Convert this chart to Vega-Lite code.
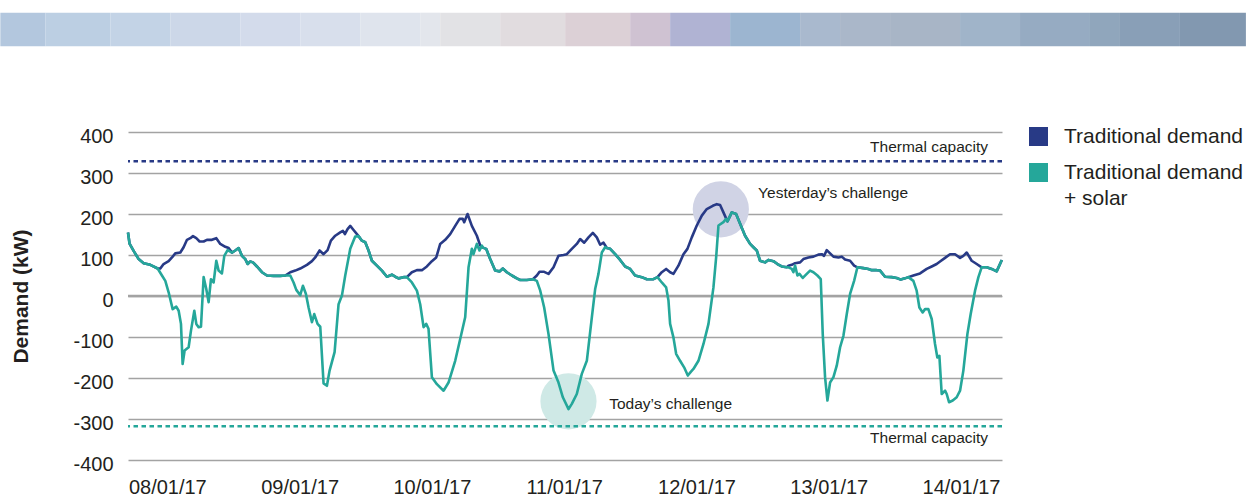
{
  "$schema": "https://vega.github.io/schema/vega-lite/v6.json",
  "width": 874,
  "height": 328,
  "autosize": "none",
  "padding": {"left": 128, "top": 132, "right": 247, "bottom": 38},
  "background": "white",
  "config": {
    "view": {"stroke": null},
    "font": "Liberation Sans",
    "axis": {"labelFont": "Liberation Sans", "titleFont": "Liberation Sans", "labelColor": "#231f20", "titleColor": "#231f20"}
  },
  "datasets": {
    "banner": [
      {"tile": "t01", "a": -30.29, "b": -22.13},
      {"tile": "t02", "a": -22.13, "b": -10.34},
      {"tile": "t03", "a": -10.34, "b": 0.54},
      {"tile": "t04", "a": 0.54, "b": 13.24},
      {"tile": "t05", "a": 13.24, "b": 24.12},
      {"tile": "t06", "a": 24.12, "b": 35.0},
      {"tile": "t07", "a": 35.0, "b": 45.88},
      {"tile": "t08", "a": 45.88, "b": 49.51},
      {"tile": "t09", "a": 49.51, "b": 60.39},
      {"tile": "t10", "a": 60.39, "b": 72.18},
      {"tile": "t11", "a": 72.18, "b": 83.97},
      {"tile": "t12", "a": 83.97, "b": 91.22},
      {"tile": "t13", "a": 91.22, "b": 102.1},
      {"tile": "t14", "a": 102.1, "b": 114.8},
      {"tile": "t15", "a": 114.8, "b": 122.05},
      {"tile": "t16", "a": 122.05, "b": 131.12},
      {"tile": "t17", "a": 131.12, "b": 143.82},
      {"tile": "t18", "a": 143.82, "b": 154.7},
      {"tile": "t19", "a": 154.7, "b": 167.39},
      {"tile": "t20", "a": 167.39, "b": 172.83},
      {"tile": "t21", "a": 172.83, "b": 183.71},
      {"tile": "t22", "a": 183.71, "b": 195.68}
    ],
    "demand": [
      {"h": -7.13, "kw": 155}, {"h": -6.85, "kw": 128}, {"h": -6.11, "kw": 110}, {"h": -5.2, "kw": 90}, {"h": -4.29, "kw": 80}, {"h": -3.08, "kw": 76}, {"h": -1.75, "kw": 67},
      {"h": -1.27, "kw": 67}, {"h": -0.67, "kw": 78}, {"h": 0.24, "kw": 85}, {"h": 0.85, "kw": 94}, {"h": 1.45, "kw": 104}, {"h": 2.36, "kw": 106}, {"h": 2.96, "kw": 119}, {"h": 3.57, "kw": 137}, {"h": 4.17, "kw": 141}, {"h": 4.66, "kw": 146}, {"h": 5.26, "kw": 141}, {"h": 5.86, "kw": 133}, {"h": 6.59, "kw": 133}, {"h": 7.19, "kw": 137}, {"h": 8.1, "kw": 137}, {"h": 8.89, "kw": 141}, {"h": 9.61, "kw": 127}, {"h": 10.52, "kw": 120}, {"h": 11.13, "kw": 117},
      {"h": 11.73, "kw": 106}, {"h": 12.33, "kw": 111}, {"h": 12.94, "kw": 117}, {"h": 13.54, "kw": 98}, {"h": 14.15, "kw": 90}, {"h": 14.57, "kw": 78}, {"h": 15.05, "kw": 84}, {"h": 15.54, "kw": 82}, {"h": 16.26, "kw": 72}, {"h": 17.17, "kw": 58}, {"h": 18.08, "kw": 50}, {"h": 19.28, "kw": 49}, {"h": 20.49, "kw": 49}, {"h": 21.4, "kw": 50},
      {"h": 22.31, "kw": 58}, {"h": 23.21, "kw": 62}, {"h": 24.12, "kw": 67}, {"h": 25.33, "kw": 76}, {"h": 26.24, "kw": 85}, {"h": 26.84, "kw": 94}, {"h": 27.63, "kw": 111}, {"h": 28.35, "kw": 102}, {"h": 29.08, "kw": 112}, {"h": 29.68, "kw": 135}, {"h": 30.47, "kw": 147}, {"h": 31.37, "kw": 155}, {"h": 31.86, "kw": 159}, {"h": 32.22, "kw": 151}, {"h": 32.7, "kw": 163}, {"h": 33.19, "kw": 171}, {"h": 33.79, "kw": 161},
      {"h": 34.7, "kw": 146}, {"h": 35.3, "kw": 135}, {"h": 35.91, "kw": 131}, {"h": 36.51, "kw": 111}, {"h": 37.12, "kw": 86}, {"h": 38.02, "kw": 74}, {"h": 38.93, "kw": 62}, {"h": 39.84, "kw": 47}, {"h": 40.74, "kw": 52}, {"h": 41.35, "kw": 47}, {"h": 41.95, "kw": 43}, {"h": 42.86, "kw": 46}, {"h": 43.46, "kw": 46},
      {"h": 44.37, "kw": 58}, {"h": 45.28, "kw": 63}, {"h": 46.19, "kw": 63}, {"h": 47.09, "kw": 72}, {"h": 48.0, "kw": 85}, {"h": 48.79, "kw": 94}, {"h": 49.51, "kw": 127}, {"h": 50.42, "kw": 137}, {"h": 51.32, "kw": 151}, {"h": 52.23, "kw": 171}, {"h": 53.02, "kw": 188}, {"h": 53.62, "kw": 188}, {"h": 53.86, "kw": 180}, {"h": 54.47, "kw": 200}, {"h": 55.25, "kw": 171}, {"h": 56.16, "kw": 147}, {"h": 56.77, "kw": 123},
      {"h": 57.25, "kw": 118}, {"h": 57.85, "kw": 115}, {"h": 58.58, "kw": 90}, {"h": 59.48, "kw": 62}, {"h": 60.27, "kw": 60}, {"h": 60.87, "kw": 67}, {"h": 61.6, "kw": 58}, {"h": 62.51, "kw": 50}, {"h": 63.41, "kw": 43}, {"h": 64.02, "kw": 39}, {"h": 65.23, "kw": 39}, {"h": 66.32, "kw": 41},
      {"h": 67.04, "kw": 50}, {"h": 67.53, "kw": 59}, {"h": 68.37, "kw": 59}, {"h": 69.16, "kw": 54}, {"h": 70.07, "kw": 70}, {"h": 70.97, "kw": 98}, {"h": 71.88, "kw": 100}, {"h": 72.48, "kw": 102}, {"h": 73.39, "kw": 115}, {"h": 74.29, "kw": 127}, {"h": 74.9, "kw": 139}, {"h": 75.63, "kw": 130}, {"h": 76.41, "kw": 143}, {"h": 77.2, "kw": 154}, {"h": 77.92, "kw": 143}, {"h": 78.53, "kw": 125}, {"h": 79.13, "kw": 130},
      {"h": 79.74, "kw": 117}, {"h": 80.34, "kw": 115}, {"h": 81.25, "kw": 102}, {"h": 82.15, "kw": 88}, {"h": 83.06, "kw": 72}, {"h": 83.97, "kw": 66}, {"h": 84.87, "kw": 50}, {"h": 86.08, "kw": 46}, {"h": 86.99, "kw": 41}, {"h": 88.2, "kw": 41}, {"h": 88.93, "kw": 46},
      {"h": 89.71, "kw": 58}, {"h": 90.5, "kw": 66}, {"h": 91.22, "kw": 58}, {"h": 91.82, "kw": 54}, {"h": 92.73, "kw": 74}, {"h": 93.64, "kw": 102}, {"h": 94.36, "kw": 115}, {"h": 95.15, "kw": 143}, {"h": 96.06, "kw": 172}, {"h": 96.97, "kw": 196}, {"h": 97.87, "kw": 212}, {"h": 98.96, "kw": 220}, {"h": 99.69, "kw": 224}, {"h": 100.29, "kw": 222}, {"h": 100.89, "kw": 204},
      {"h": 101.62, "kw": 182}, {"h": 102.41, "kw": 204}, {"h": 103.19, "kw": 200}, {"h": 103.92, "kw": 176}, {"h": 104.82, "kw": 147}, {"h": 105.73, "kw": 127}, {"h": 106.33, "kw": 119}, {"h": 106.94, "kw": 111}, {"h": 107.54, "kw": 86}, {"h": 108.45, "kw": 82}, {"h": 109.05, "kw": 88}, {"h": 109.96, "kw": 85}, {"h": 110.69, "kw": 78}, {"h": 111.47, "kw": 72}, {"h": 112.38, "kw": 70},
      {"h": 112.68, "kw": 74}, {"h": 113.29, "kw": 76}, {"h": 113.89, "kw": 80}, {"h": 114.8, "kw": 82}, {"h": 115.4, "kw": 90}, {"h": 116.31, "kw": 94}, {"h": 117.22, "kw": 96}, {"h": 118.12, "kw": 101}, {"h": 118.73, "kw": 102}, {"h": 119.15, "kw": 98}, {"h": 119.64, "kw": 112}, {"h": 120.24, "kw": 104}, {"h": 120.85, "kw": 96}, {"h": 121.75, "kw": 94}, {"h": 122.36, "kw": 96}, {"h": 122.96, "kw": 89}, {"h": 123.87, "kw": 86}, {"h": 124.6, "kw": 74},
      {"h": 125.2, "kw": 70}, {"h": 126.28, "kw": 68}, {"h": 127.19, "kw": 66}, {"h": 127.8, "kw": 63}, {"h": 128.7, "kw": 63}, {"h": 129.31, "kw": 62}, {"h": 130.21, "kw": 47}, {"h": 131.42, "kw": 46}, {"h": 132.33, "kw": 44}, {"h": 133.06, "kw": 40}, {"h": 133.84, "kw": 43}, {"h": 134.44, "kw": 46},
      {"h": 135.35, "kw": 50}, {"h": 136.56, "kw": 55}, {"h": 137.77, "kw": 66}, {"h": 138.68, "kw": 72}, {"h": 139.58, "kw": 78}, {"h": 140.19, "kw": 84}, {"h": 141.1, "kw": 93}, {"h": 142.0, "kw": 102}, {"h": 142.91, "kw": 102}, {"h": 143.82, "kw": 93}, {"h": 144.42, "kw": 98}, {"h": 145.03, "kw": 106}, {"h": 145.93, "kw": 86}, {"h": 146.84, "kw": 78},
      {"h": 147.74, "kw": 70}, {"h": 148.65, "kw": 70}, {"h": 149.55, "kw": 66}, {"h": 150.46, "kw": 60}, {"h": 151.4, "kw": 88}
    ],
    "net": [
      {"h": -7.13, "kw": 155}, {"h": -6.85, "kw": 128}, {"h": -6.11, "kw": 110}, {"h": -5.2, "kw": 90}, {"h": -4.29, "kw": 80}, {"h": -3.08, "kw": 76}, {"h": -1.75, "kw": 67},
      {"h": -0.97, "kw": 50}, {"h": -0.36, "kw": 37}, {"h": 0.24, "kw": 9}, {"h": 0.97, "kw": -32}, {"h": 1.63, "kw": -26}, {"h": 2.06, "kw": -36}, {"h": 2.48, "kw": -68}, {"h": 2.78, "kw": -166}, {"h": 3.14, "kw": -133}, {"h": 3.87, "kw": -125}, {"h": 4.29, "kw": -85}, {"h": 4.9, "kw": -36}, {"h": 5.26, "kw": -68}, {"h": 5.68, "kw": -76}, {"h": 6.11, "kw": -75}, {"h": 6.59, "kw": 46}, {"h": 7.07, "kw": 17}, {"h": 7.5, "kw": -15}, {"h": 7.92, "kw": 41}, {"h": 8.4, "kw": 33}, {"h": 8.89, "kw": 86}, {"h": 9.31, "kw": 62}, {"h": 9.91, "kw": 55}, {"h": 10.34, "kw": 98}, {"h": 10.94, "kw": 112},
      {"h": 11.73, "kw": 106}, {"h": 12.33, "kw": 111}, {"h": 12.94, "kw": 117}, {"h": 13.54, "kw": 98}, {"h": 14.15, "kw": 90}, {"h": 14.57, "kw": 78}, {"h": 15.05, "kw": 84}, {"h": 15.54, "kw": 82}, {"h": 16.26, "kw": 72}, {"h": 17.17, "kw": 58}, {"h": 18.08, "kw": 50}, {"h": 19.28, "kw": 49}, {"h": 20.49, "kw": 49}, {"h": 21.4, "kw": 50},
      {"h": 22.31, "kw": 50}, {"h": 22.91, "kw": 33}, {"h": 23.4, "kw": 15}, {"h": 24.12, "kw": 2}, {"h": 24.6, "kw": 25}, {"h": 25.15, "kw": 5}, {"h": 25.63, "kw": -28}, {"h": 26.24, "kw": -64}, {"h": 26.66, "kw": -44}, {"h": 27.26, "kw": -68}, {"h": 27.75, "kw": -75}, {"h": 28.35, "kw": -213}, {"h": 28.96, "kw": -219}, {"h": 29.44, "kw": -182}, {"h": 30.35, "kw": -137}, {"h": 31.07, "kw": -20}, {"h": 31.68, "kw": 1}, {"h": 32.28, "kw": 50}, {"h": 33.19, "kw": 115}, {"h": 34.09, "kw": 145},
      {"h": 34.7, "kw": 146}, {"h": 35.3, "kw": 135}, {"h": 35.91, "kw": 131}, {"h": 36.51, "kw": 111}, {"h": 37.12, "kw": 86}, {"h": 38.02, "kw": 74}, {"h": 38.93, "kw": 62}, {"h": 39.84, "kw": 47}, {"h": 40.74, "kw": 52}, {"h": 41.35, "kw": 47}, {"h": 41.95, "kw": 43}, {"h": 42.86, "kw": 46}, {"h": 43.46, "kw": 46},
      {"h": 44.37, "kw": 33}, {"h": 45.28, "kw": 13}, {"h": 45.88, "kw": -20}, {"h": 46.49, "kw": -76}, {"h": 46.97, "kw": -68}, {"h": 47.39, "kw": -80}, {"h": 48.0, "kw": -198}, {"h": 48.91, "kw": -215}, {"h": 50.12, "kw": -231}, {"h": 51.02, "kw": -211}, {"h": 52.23, "kw": -158}, {"h": 53.14, "kw": -105}, {"h": 54.04, "kw": -52}, {"h": 54.65, "kw": 70}, {"h": 55.25, "kw": 115}, {"h": 55.55, "kw": 102}, {"h": 56.16, "kw": 127}, {"h": 56.64, "kw": 111}, {"h": 57.07, "kw": 123},
      {"h": 57.25, "kw": 118}, {"h": 57.85, "kw": 115}, {"h": 58.58, "kw": 90}, {"h": 59.48, "kw": 62}, {"h": 60.27, "kw": 60}, {"h": 60.87, "kw": 67}, {"h": 61.6, "kw": 58}, {"h": 62.51, "kw": 50}, {"h": 63.41, "kw": 43}, {"h": 64.02, "kw": 39}, {"h": 65.23, "kw": 39}, {"h": 66.32, "kw": 41},
      {"h": 67.04, "kw": 37}, {"h": 67.66, "kw": 13}, {"h": 68.37, "kw": -28}, {"h": 69.16, "kw": -93}, {"h": 70.07, "kw": -182}, {"h": 70.97, "kw": -211}, {"h": 71.76, "kw": -247}, {"h": 72.79, "kw": -276}, {"h": 73.39, "kw": -263}, {"h": 74.29, "kw": -239}, {"h": 75.2, "kw": -190}, {"h": 76.11, "kw": -158}, {"h": 77.02, "kw": -52}, {"h": 77.62, "kw": 17}, {"h": 78.22, "kw": 54}, {"h": 78.83, "kw": 106}, {"h": 79.43, "kw": 119},
      {"h": 79.74, "kw": 117}, {"h": 80.34, "kw": 115}, {"h": 81.25, "kw": 102}, {"h": 82.15, "kw": 88}, {"h": 83.06, "kw": 72}, {"h": 83.97, "kw": 66}, {"h": 84.87, "kw": 50}, {"h": 86.08, "kw": 46}, {"h": 86.99, "kw": 41}, {"h": 88.2, "kw": 41}, {"h": 88.93, "kw": 46},
      {"h": 89.71, "kw": 33}, {"h": 90.5, "kw": 21}, {"h": 90.92, "kw": -11}, {"h": 91.22, "kw": -68}, {"h": 91.82, "kw": -101}, {"h": 92.31, "kw": -141}, {"h": 93.03, "kw": -158}, {"h": 93.76, "kw": -174}, {"h": 94.43, "kw": -194}, {"h": 94.97, "kw": -185}, {"h": 95.45, "kw": -178}, {"h": 96.36, "kw": -158}, {"h": 97.27, "kw": -117}, {"h": 98.18, "kw": -68}, {"h": 99.08, "kw": 21}, {"h": 99.57, "kw": 94}, {"h": 99.99, "kw": 172}, {"h": 100.89, "kw": 180}, {"h": 101.38, "kw": 188},
      {"h": 101.62, "kw": 182}, {"h": 102.41, "kw": 204}, {"h": 103.19, "kw": 200}, {"h": 103.92, "kw": 176}, {"h": 104.82, "kw": 147}, {"h": 105.73, "kw": 127}, {"h": 106.33, "kw": 119}, {"h": 106.94, "kw": 111}, {"h": 107.54, "kw": 86}, {"h": 108.45, "kw": 82}, {"h": 109.05, "kw": 88}, {"h": 109.96, "kw": 85}, {"h": 110.69, "kw": 78}, {"h": 111.47, "kw": 72}, {"h": 112.38, "kw": 70},
      {"h": 112.68, "kw": 70}, {"h": 113.29, "kw": 66}, {"h": 113.59, "kw": 58}, {"h": 113.89, "kw": 74}, {"h": 114.32, "kw": 50}, {"h": 114.68, "kw": 54}, {"h": 115.29, "kw": 44}, {"h": 116.01, "kw": 54}, {"h": 116.61, "kw": 62}, {"h": 117.22, "kw": 58}, {"h": 117.94, "kw": 50}, {"h": 118.55, "kw": 41}, {"h": 118.91, "kw": -93}, {"h": 119.33, "kw": -198}, {"h": 119.76, "kw": -255}, {"h": 120.24, "kw": -211}, {"h": 120.85, "kw": -198}, {"h": 121.45, "kw": -170}, {"h": 122.06, "kw": -125}, {"h": 122.66, "kw": -97}, {"h": 123.27, "kw": -44}, {"h": 123.87, "kw": 5}, {"h": 124.6, "kw": 37},
      {"h": 125.2, "kw": 70}, {"h": 126.28, "kw": 68}, {"h": 127.19, "kw": 66}, {"h": 127.8, "kw": 63}, {"h": 128.7, "kw": 63}, {"h": 129.31, "kw": 62}, {"h": 130.21, "kw": 47}, {"h": 131.42, "kw": 46}, {"h": 132.33, "kw": 44}, {"h": 133.06, "kw": 40}, {"h": 133.84, "kw": 43}, {"h": 134.44, "kw": 46},
      {"h": 135.35, "kw": 37}, {"h": 135.95, "kw": 13}, {"h": 136.44, "kw": -28}, {"h": 137.04, "kw": -40}, {"h": 137.47, "kw": -32}, {"h": 138.07, "kw": -32}, {"h": 138.68, "kw": -56}, {"h": 139.28, "kw": -117}, {"h": 139.7, "kw": -150}, {"h": 140.07, "kw": -146}, {"h": 140.49, "kw": -239}, {"h": 141.1, "kw": -231}, {"h": 141.4, "kw": -239}, {"h": 141.82, "kw": -259}, {"h": 142.49, "kw": -255}, {"h": 143.21, "kw": -247}, {"h": 143.82, "kw": -231}, {"h": 144.42, "kw": -182}, {"h": 145.15, "kw": -93}, {"h": 145.75, "kw": -44}, {"h": 146.54, "kw": 13}, {"h": 147.15, "kw": 46},
      {"h": 147.74, "kw": 70}, {"h": 148.65, "kw": 70}, {"h": 149.55, "kw": 66}, {"h": 150.46, "kw": 60}, {"h": 151.4, "kw": 88}
    ]
  },
  "layer": [
    {
      "data": {"name": "banner"},
      "mark": {"type": "rect", "clip": false},
      "encoding": {
        "x": {"field": "a", "type": "quantitative"},
        "x2": {"field": "b"},
        "y": {"datum": 691},
        "y2": {"datum": 609},
        "fill": {
          "field": "tile", "type": "nominal", "legend": null,
          "scale": {
            "domain": ["t01","t02","t03","t04","t05","t06","t07","t08","t09","t10","t11","t12","t13","t14","t15","t16","t17","t18","t19","t20","t21","t22"],
            "range": ["#b3c7de","#bccfe3","#c3d3e6","#ccd7e8","#d3dbeb","#d8dfec","#dfe4ed","#e3e6ec","#e2e2e5","#e1dcdf","#dcd0d6","#cfc2d2","#b0b3d3","#9cb5d0","#a9b9ce","#aab7c9","#a8b5c6","#a0b4c9","#96abc2","#90a6bc","#899fb7","#8298b0"]
          }
        }
      }
    },
    {
      "data": {"values": [{"note": "Yesterday", "h": 100.42, "kw": 211.5}]},
      "mark": {"type": "point", "shape": "circle", "filled": true, "opacity": 1, "color": "#d0d3e5", "size": 3157},
      "encoding": {"x": {"field": "h", "type": "quantitative"}, "y": {"field": "kw", "type": "quantitative"}}
    },
    {
      "data": {"values": [{"note": "Today", "h": 72.78, "kw": -256.8}]},
      "mark": {"type": "point", "shape": "circle", "filled": true, "opacity": 1, "color": "#cfe9e6", "size": 3157},
      "encoding": {"x": {"field": "h", "type": "quantitative"}, "y": {"field": "kw", "type": "quantitative"}}
    },
    {
      "data": {"values": [{"level": 0}]},
      "mark": {"type": "rule", "color": "#a3a3a3", "strokeWidth": 2.5},
      "encoding": {"y": {"field": "level", "type": "quantitative"}}
    },
    {
      "data": {"values": [{"capacity": 328.5}]},
      "mark": {"type": "rule", "color": "#283a86", "strokeWidth": 2.6, "strokeDash": [4.5, 3.5]},
      "encoding": {"y": {"field": "capacity", "type": "quantitative"}}
    },
    {
      "data": {"values": [{"capacity": -317.8}]},
      "mark": {"type": "rule", "color": "#25a79a", "strokeWidth": 2.6, "strokeDash": [4.5, 3.5]},
      "encoding": {"y": {"field": "capacity", "type": "quantitative"}}
    },
    {
      "data": {"name": "demand"},
      "mark": {"type": "line", "strokeWidth": 2.6, "strokeJoin": "round"},
      "encoding": {
        "x": {
          "field": "h", "type": "quantitative",
          "scale": {"domain": [-7.13, 151.43], "nice": false, "zero": false},
          "axis": {
            "title": null, "values": [0, 24, 48, 72, 96, 120, 144],
            "labelExpr": "['08/01/17','09/01/17','10/01/17','11/01/17','12/01/17','13/01/17','14/01/17'][round(datum.value / 24)]",
            "ticks": false, "domain": false, "grid": false,
            "labelFontSize": 20, "labelPadding": 17, "labelFlush": false, "labelOverlap": false
          }
        },
        "y": {
          "field": "kw", "type": "quantitative",
          "scale": {"domain": [-400, 400], "nice": false},
          "axis": {
            "title": "Demand (kW)", "values": [-400, -300, -200, -100, 0, 100, 200, 300, 400],
            "labelExpr": "'' + datum.value",
            "ticks": false, "domain": false, "grid": true, "gridColor": "#a3a3a3", "gridWidth": 1.5,
            "labelFontSize": 20, "labelPadding": 15, "labelOffset": 4,
            "titleFontSize": 21, "titleFontWeight": "bold", "titleX": -107, "titleY": 164,
            "titleAngle": -90, "titleAlign": "center", "titleBaseline": "middle"
          }
        },
        "color": {
          "datum": "Traditional demand", "type": "nominal",
          "scale": {"domain": ["Traditional demand", "Traditional demand + solar"], "range": ["#283a86", "#25a79a"]},
          "legend": {
            "title": null, "orient": "none", "legendX": 900, "legendY": -6,
            "symbolType": "square", "symbolSize": 361, "symbolStrokeWidth": 0,
            "labelFontSize": 21, "labelColor": "#231f20", "labelOffset": 15, "labelLimit": 400,
            "rowPadding": 14,
            "labelExpr": "datum.label == 'Traditional demand + solar' ? ['Traditional demand', '+ solar'] : datum.label",
            "encode": {
              "symbols": {"update": {"fill": {"scale": "color", "field": "value"}, "stroke": {"value": "transparent"}, "opacity": {"value": 1}}},
              "labels": {"update": {"lineHeight": {"value": 26}}}
            }
          }
        }
      }
    },
    {
      "data": {"name": "net"},
      "mark": {"type": "line", "strokeWidth": 2.6, "strokeJoin": "round"},
      "encoding": {
        "x": {"field": "h", "type": "quantitative"},
        "y": {"field": "kw", "type": "quantitative"},
        "color": {"datum": "Traditional demand + solar", "type": "nominal"}
      }
    },
    {
      "data": {"values": [
        {"h": 148.9, "kw": 351.7, "text": "Thermal capacity"},
        {"h": 148.9, "kw": -359, "text": "Thermal capacity"}
      ]},
      "mark": {"type": "text", "align": "right", "baseline": "alphabetic", "fontSize": 15.5, "color": "#231f20"},
      "encoding": {"x": {"field": "h", "type": "quantitative"}, "y": {"field": "kw", "type": "quantitative"}, "text": {"field": "text"}}
    },
    {
      "data": {"values": [
        {"h": 107.18, "kw": 239.5, "text": "Yesterday’s challenge"},
        {"h": 80.16, "kw": -275.9, "text": "Today’s challenge"}
      ]},
      "mark": {"type": "text", "align": "left", "baseline": "alphabetic", "fontSize": 15.5, "color": "#231f20"},
      "encoding": {"x": {"field": "h", "type": "quantitative"}, "y": {"field": "kw", "type": "quantitative"}, "text": {"field": "text"}}
    }
  ]
}
